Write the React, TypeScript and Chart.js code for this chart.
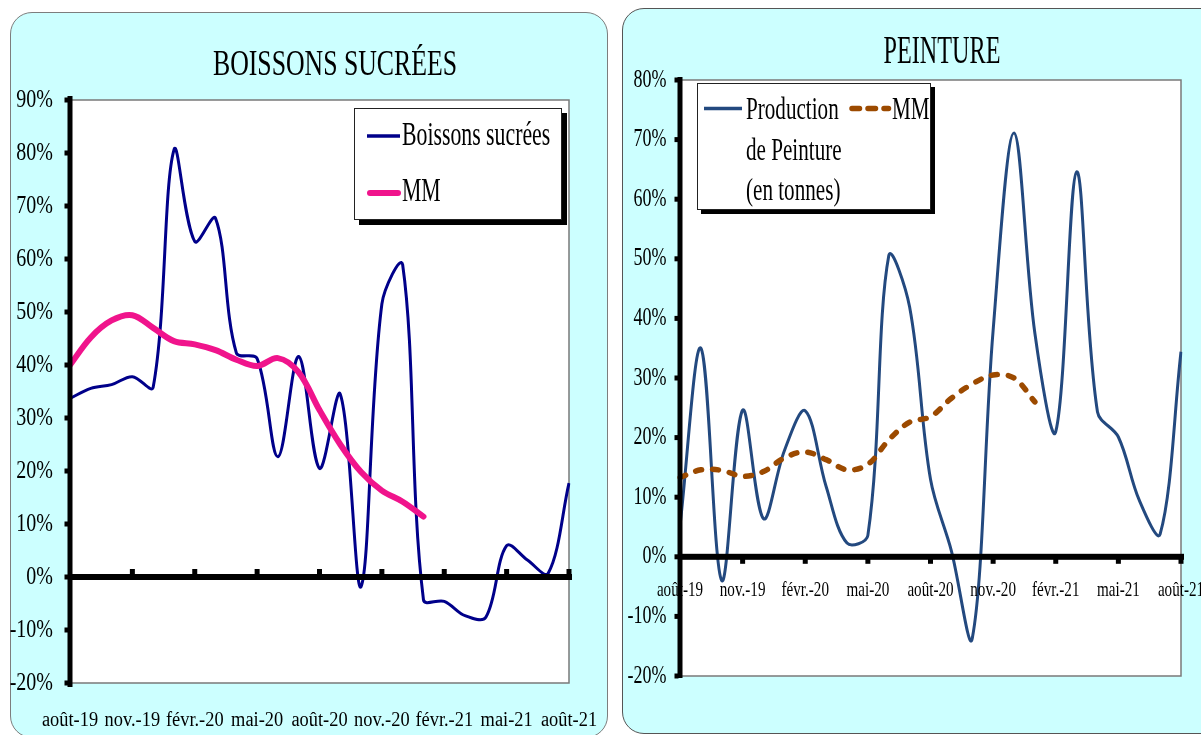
import React, { useEffect, useRef } from 'react';
import { Chart, registerables } from 'chart.js';

Chart.register(...registerables);

// ---------- data ----------
const months = [
  'août-19', 'sept.-19', 'oct.-19', 'nov.-19', 'déc.-19', 'janv.-20', 'févr.-20', 'mars-20', 'avr.-20',
  'mai-20', 'juin-20', 'juil.-20', 'août-20', 'sept.-20', 'oct.-20', 'nov.-20', 'déc.-20', 'janv.-21',
  'févr.-21', 'mars-21', 'avr.-21', 'mai-21', 'juin-21', 'juil.-21', 'août-21',
];
const labelEvery = 3;

const boissonsSucrees = [
  33.7, 35.6, 36.3, 37.8, 35.8, 80.6, 63.3, 67.7, 42.3, 41.2, 22.7, 41.6, 20.5,
  34.5, -1.8, 51.5, 58.9, -4.3, -4.6, -7.3, -7.6, 5.9, 3.2, 0.7, 17.7,
];
const boissonsMM = [
  40.0, 45.2, 48.4, 49.4, 47.0, 44.5, 43.9, 42.8, 41.0, 39.8, 41.3, 38.6, 31.5,
  25.0, 19.8, 16.3, 14.2, 11.4,
];
const boissonsYRange = [-20, 90];

const peintureProduction = [
  5.2, 35.0, -4.0, 24.6, 6.4, 17.8, 24.5, 11.8, 2.3, 3.6, 50.5, 41.9, 13.0,
  1.0, -13.7, 38.0, 71.1, 37.5, 21.0, 64.6, 24.3, 20.1, 9.5, 3.8, 34.4,
];
const peintureMM = [
  13.3, 14.6, 14.5, 13.5, 14.3, 16.6, 17.6, 16.3, 14.6, 15.5, 19.6, 22.6, 23.5,
  26.6, 29.0, 30.5, 30.0, 26.0,
];
const peintureYRange = [-20, 80];
const yStep = 10;

// ---------- styles ----------
const NAVY = '#00008a';
const PINK = '#f0148c';
const STEEL = '#23497f';
const BROWN = '#9c4a00';
const CYAN = '#ccffff';
const SERIF = '"Liberation Serif", "Times New Roman", serif';

type DecorCfg = {
  xTickUp: boolean;
  yFont: number;
  yScaleX: number;
  yGap: number;
  xFont: number;
  xScaleX: number;
  xBaselineFromZero: boolean;
  xBaselineOffset: number;
  axisTopExtra: number;
  axisBottomExtra: number;
};

function makeDecor(cfg: DecorCfg) {
  return {
    id: 'decor',
    beforeDraw(chart: any) {
      const { ctx, chartArea: a } = chart;
      ctx.save();
      ctx.fillStyle = '#ffffff';
      ctx.fillRect(a.left, a.top, a.right - a.left, a.bottom - a.top);
      ctx.strokeStyle = '#7a7a7a';
      ctx.lineWidth = 1.5;
      ctx.beginPath();
      ctx.moveTo(a.left, a.top);
      ctx.lineTo(a.right, a.top);
      ctx.lineTo(a.right, a.bottom);
      ctx.lineTo(a.left, a.bottom);
      ctx.stroke();
      ctx.restore();
    },
    afterDatasetsDraw(chart: any) {
      const { ctx, chartArea: a } = chart;
      const x = chart.scales.x;
      const y = chart.scales.y;
      const zero = y.getPixelForValue(0);
      ctx.save();
      ctx.fillStyle = '#000000';
      // y axis line
      ctx.fillRect(a.left - 2.5, a.top - cfg.axisTopExtra, 5, a.bottom - a.top + cfg.axisTopExtra + cfg.axisBottomExtra);
      // y tick marks
      y.ticks.forEach((_t: any, i: number) => {
        const py = y.getPixelForTick(i);
        ctx.fillRect(a.left - 5.5, py - 2.5, 4, 5);
      });
      // zero line
      ctx.fillRect(a.left, zero - 3, a.right - a.left + 3, 6);
      // x tick marks
      x.ticks.forEach((_t: any, i: number) => {
        if (i === 0 || i % labelEvery !== 0) return;
        const px = x.getPixelForTick(i);
        if (cfg.xTickUp) ctx.fillRect(px - 2.5, zero - 8, 5, 6);
        else ctx.fillRect(px - 2.5, zero + 2, 5, 5);
      });
      ctx.restore();
    },
    afterDraw(chart: any) {
      const { ctx, chartArea: a } = chart;
      const x = chart.scales.x;
      const y = chart.scales.y;
      ctx.save();
      ctx.fillStyle = '#000000';
      // y labels
      ctx.font = `${cfg.yFont}px ${SERIF}`;
      ctx.textAlign = 'right';
      ctx.textBaseline = 'middle';
      y.ticks.forEach((t: any, i: number) => {
        const py = y.getPixelForTick(i);
        ctx.save();
        ctx.translate(a.left - cfg.yGap, py);
        ctx.scale(cfg.yScaleX, 1);
        ctx.fillText(`${t.value}%`, 0, 0);
        ctx.restore();
      });
      // x labels
      ctx.font = `${cfg.xFont}px ${SERIF}`;
      ctx.textAlign = 'center';
      ctx.textBaseline = 'alphabetic';
      const base = cfg.xBaselineFromZero ? y.getPixelForValue(0) : a.bottom;
      x.ticks.forEach((t: any, i: number) => {
        if (i % labelEvery !== 0) return;
        const px = x.getPixelForTick(i);
        ctx.save();
        ctx.translate(px, base + cfg.xBaselineOffset);
        ctx.scale(cfg.xScaleX, 1);
        ctx.fillText(String(x.getLabelForValue(t.value)), 0, 0);
        ctx.restore();
      });
      ctx.restore();
    },
  };
}

function buildChart(
  canvas: HTMLCanvasElement,
  datasets: any[],
  yRange: number[],
  padding: { top: number; right: number },
  yWidth: number,
  xHeight: number,
  decor: DecorCfg,
) {
  return new Chart(canvas, {
    type: 'line',
    data: { labels: months, datasets },
    options: {
      responsive: false,
      animation: false,
      events: [],
      layout: { padding: { left: 0, top: padding.top, right: padding.right, bottom: 0 } },
      plugins: { legend: { display: false }, tooltip: { enabled: false }, title: { display: false } },
      elements: { point: { radius: 0 } },
      scales: {
        x: {
          type: 'category',
          offset: false,
          grid: { display: false },
          border: { display: false },
          ticks: { display: false, autoSkip: false, maxRotation: 0, minRotation: 0 },
          afterFit: (s: any) => {
            s.height = xHeight;
            s.paddingLeft = 0;
            s.paddingRight = 0;
          },
        },
        y: {
          type: 'linear',
          min: yRange[0],
          max: yRange[1],
          grid: { display: false },
          border: { display: false },
          ticks: { display: false, stepSize: yStep },
          afterFit: (s: any) => {
            s.width = yWidth;
            s.paddingTop = 0;
            s.paddingBottom = 0;
          },
        },
      },
    } as any,
    plugins: [makeDecor(decor)],
  });
}

const abs = (style: React.CSSProperties): React.CSSProperties => ({ position: 'absolute', ...style });

export default function App() {
  const leftRef = useRef<HTMLCanvasElement>(null);
  const rightRef = useRef<HTMLCanvasElement>(null);

  useEffect(() => {
    const left = buildChart(
      leftRef.current!,
      [
        { label: 'Boissons sucrées', data: boissonsSucrees, borderColor: NAVY, borderWidth: 3, tension: 0.35, fill: false, order: 1 },
        { label: 'MM', data: boissonsMM, borderColor: PINK, borderWidth: 6, tension: 0.35, fill: false, borderCapStyle: 'round', order: 0 },
      ],
      boissonsYRange,
      { top: 88, right: 39 },
      60,
      52,
      {
        xTickUp: true, yFont: 25, yScaleX: 0.8, yGap: 17, xFont: 20, xScaleX: 0.92,
        xBaselineFromZero: false, xBaselineOffset: 42.7, axisTopExtra: 4, axisBottomExtra: 4,
      },
    );
    const right = buildChart(
      rightRef.current!,
      [
        { label: 'Production de Peinture (en tonnes)', data: peintureProduction, borderColor: STEEL, borderWidth: 3, tension: 0.35, fill: false, order: 1 },
        { label: 'MM', data: peintureMM, borderColor: BROWN, borderWidth: 5.5, tension: 0.35, fill: false, borderDash: [6, 11], borderCapStyle: 'round', order: 0 },
      ],
      peintureYRange,
      { top: 72, right: 20 },
      58,
      59,
      {
        xTickUp: false, yFont: 25, yScaleX: 0.72, yGap: 13.5, xFont: 21, xScaleX: 0.72,
        xBaselineFromZero: true, xBaselineOffset: 39.2, axisTopExtra: 3, axisBottomExtra: 2,
      },
    );
    return () => {
      left.destroy();
      right.destroy();
    };
  }, []);

  const txt = (left: number, top: number, size: number, scale: number, text: string, center = false): React.ReactNode => (
    <div
      style={abs({
        left,
        top,
        fontSize: size,
        lineHeight: `${size}px`,
        fontFamily: SERIF,
        color: '#000',
        whiteSpace: 'nowrap',
        transform: center ? `translateX(-50%) scaleX(${scale})` : `scaleX(${scale})`,
        transformOrigin: center ? 'center' : 'left',
      })}
    >
      {text}
    </div>
  );

  return (
    <div style={{ position: 'fixed', left: 0, top: 0, width: 1201, height: 735, overflow: 'hidden', background: '#ffffff' }}>
      {/* panels */}
      <div style={abs({ left: 10, top: 12, width: 598, height: 726, background: CYAN, border: '1px solid #7d7d7d', borderRadius: 22, boxSizing: 'border-box' })} />
      <div style={abs({ left: 622, top: 8, width: 620, height: 726, background: CYAN, border: '1px solid #555', borderRadius: 22, boxSizing: 'border-box' })} />

      {/* charts */}
      <canvas ref={leftRef} width={598} height={723} style={abs({ left: 10, top: 12, display: 'block' })} />
      <canvas ref={rightRef} width={579} height={727} style={abs({ left: 622, top: 8, display: 'block' })} />

      {/* titles */}
      {txt(335, 45.7, 35, 0.736, 'BOISSONS SUCRÉES', true)}
      {txt(941.7, 29.8, 39, 0.62, 'PEINTURE', true)}

      {/* left legend */}
      <div style={abs({ left: 354, top: 108, width: 208, height: 112, background: '#fff', border: '1px solid #222', boxShadow: '5px 5px 0 #000', boxSizing: 'border-box' })} />
      <svg width={1201} height={735} style={abs({ left: 0, top: 0, pointerEvents: 'none' })}>
        <line x1={367} y1={136} x2={400} y2={136} stroke={NAVY} strokeWidth={3.5} />
        <line x1={370} y1={193} x2={398} y2={193} stroke={PINK} strokeWidth={6} strokeLinecap="round" />
      </svg>
      {txt(402, 118, 33, 0.66, 'Boissons sucrées')}
      {txt(402, 174, 33, 0.66, 'MM')}

      {/* right legend */}
      <div style={abs({ left: 697, top: 83, width: 234, height: 127, background: '#fff', border: '1px solid #222', boxShadow: '4px 4px 0 #000', boxSizing: 'border-box' })} />
      <svg width={1201} height={735} style={abs({ left: 0, top: 0, pointerEvents: 'none' })}>
        <line x1={704} y1={108.5} x2={742} y2={108.5} stroke={STEEL} strokeWidth={3.5} />
        <line x1={852} y1={108.5} x2={888.5} y2={108.5} stroke={BROWN} strokeWidth={5.5} strokeLinecap="round" strokeDasharray="7.5 8.5" />
      </svg>
      {txt(745.5, 91.5, 32, 0.66, 'Production')}
      {txt(745.5, 132.7, 32, 0.66, 'de Peinture')}
      {txt(745.5, 172.5, 32, 0.66, '(en tonnes)')}
      {txt(892, 91.5, 32, 0.66, 'MM')}
    </div>
  );
}
